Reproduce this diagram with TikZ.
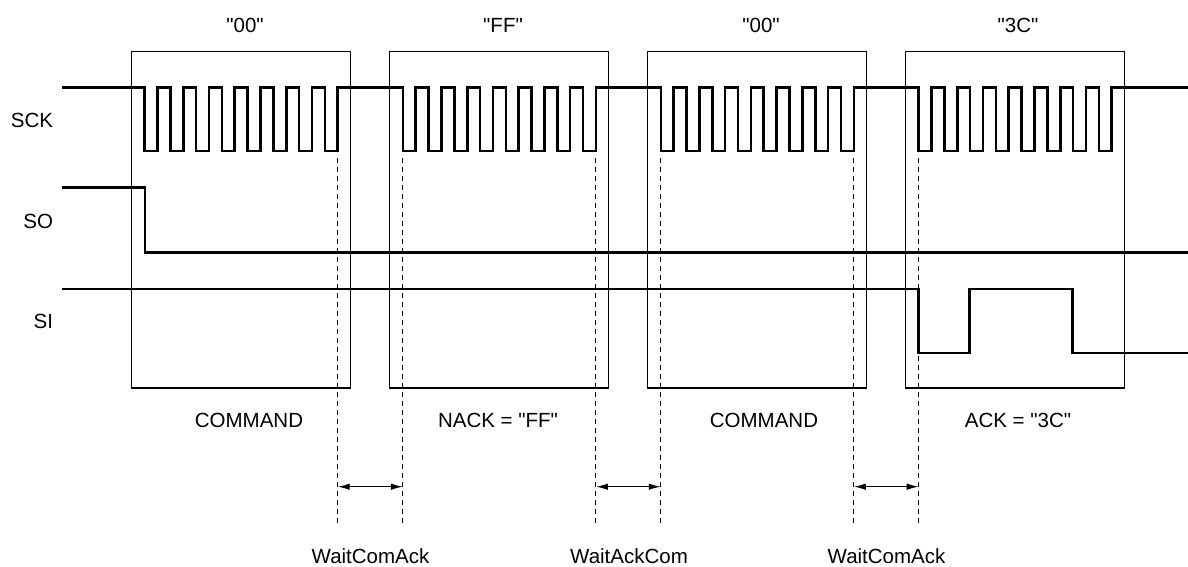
\documentclass[tikz,border=0pt]{standalone}
\usepackage{fontspec}
\setmainfont{Liberation Sans}[Ligatures=TeXOff]
\usetikzlibrary{arrows.meta}
\begin{document}
\begin{tikzpicture}[x=1pt,y=-1pt,
  sig/.style={line width=2.6pt,line join=miter},
  frame/.style={line width=1.1pt},
  guide/.style={line width=1.1pt,dash pattern=on 5pt off 4pt},
  span/.style={line width=1.3pt,{Latex[length=12pt,width=6.5pt]}-{Latex[length=12pt,width=6.5pt]}},
  lbl/.style={font=\fontsize{20.5}{24}\selectfont,inner sep=0pt,anchor=base},
  sname/.style={font=\fontsize{20.5}{24}\selectfont,inner sep=0pt,anchor=base east}]
\useasboundingbox (0,0) rectangle (1188,566);
% boxes
\foreach \i/\L in {1/131.7,2/389.9,3/647.8,4/905.7}{
  \draw[frame] (\L,51.7) rectangle ({\L+219},388);
}
% signal names
\node[sname] (sck) at (53.3,127.3) {SCK};
\node[sname] (so) at (53.3,228.3) {SO};
\node[sname] (si) at (53.3,328) {SI};
% top labels
\node[lbl] (t1) at (245,32) {"00"};
\node[lbl] (t2) at (503,32) {"FF"};
\node[lbl] (t3) at (761,32) {"00"};
\node[lbl] (t4) at (1018,32) {"3C"};
% box labels
\node[lbl] (b1) at (249,427.3) {COMMAND};
\node[lbl] (b2) at (498,427.3) {NACK = "FF"};
\node[lbl] (b3) at (764,427.3) {COMMAND};
\node[lbl] (b4) at (1018,427.3) {ACK = "3C"};
% SCK
\draw[sig] (62,87.3)
  \foreach \L in {131.7,389.9,647.8,905.7}{
    \foreach \k in {0,...,7}{
      -- ({\L+13+2*\k*12.867},87.3) -- ({\L+13+2*\k*12.867},151)
      -- ({\L+13+(2*\k+1)*12.867},151) -- ({\L+13+(2*\k+1)*12.867},87.3)
    }
  } -- (1188,87.3);
% SO
\draw[sig] (62,187.3) -- (145,187.3) -- (145,252.7) -- (1188,252.7);
% SI
\draw[sig] (62,289) -- (918.7,289) -- (918.7,353) -- (969.5,353) -- (969.5,289)
  -- (1072.7,289) -- (1072.7,353) -- (1188,353);
% guides and spans
\foreach \n/\x in {a/337.7,b/402.9,c/595.9,d/660.8,e/853.8,f/918.7}{
  \coordinate (\n top) at (\x,158);
  \coordinate (\n bot) at (\x,523);
  \coordinate (\n mid) at (\x,486.7);
  \draw[guide] (\n top) -- (\n bot);
}
\draw[span] (amid) -- (bmid);
\draw[span] (cmid) -- (dmid);
\draw[span] (emid) -- (fmid);
\node[lbl] (w1) at (370.5,563) {WaitComAck};
\node[lbl] (w2) at (629,563) {WaitAckCom};
\node[lbl] (w3) at (886.5,563) {WaitComAck};
\end{tikzpicture}
\end{document}
